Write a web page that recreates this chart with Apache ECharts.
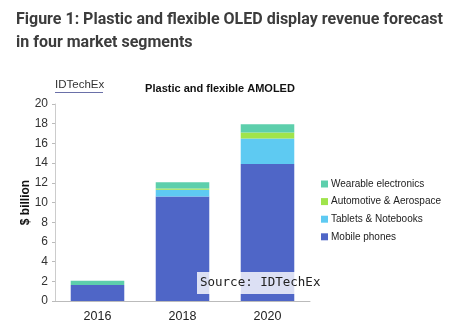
<!DOCTYPE html>
<html><head><meta charset="utf-8">
<script src="https://cdn.jsdelivr.net/npm/echarts@6/dist/echarts.min.js"></script>
<style>html,body{margin:0;padding:0;background:#fff}#c{width:456px;height:335px}</style>
</head><body><div id="c"></div>
<script>
const categories = ['2016', '2018', '2020'];
const mobilePhones = [1.62, 10.6, 13.9];
const tabletsNotebooks = [0, 0.7, 2.6];
const automotiveAerospace = [0, 0.12, 0.6];
const wearableElectronics = [0.44, 0.63, 0.85];
const yTicks = [0, 2, 4, 6, 8, 10, 12, 14, 16, 18, 20];

const chart = echarts.init(document.getElementById('c'), null, {renderer: 'canvas'});
const mk = (name, data, color) => ({
  name, type: 'bar', stack: 'a', data, barWidth: '63%',
  itemStyle: {color}, emphasis: {disabled: true}
});
chart.setOption({
  animation: false,
  textStyle: {fontFamily: 'Liberation Sans, Arial, sans-serif'},
  title: [{
    text: 'Figure 1: Plastic and flexible OLED display revenue forecast\nin four market segments',
    left: 11, top: 3,
    textStyle: {fontFamily: 'Roboto', fontWeight: 'bold', fontSize: 16, color: '#3c3c3c', lineHeight: 23}
  }, {
    text: 'Plastic and flexible AMOLED',
    left: 215, top: 78, textAlign: 'center',
    textStyle: {fontFamily: 'Liberation Sans, Arial', fontWeight: 'bold', fontSize: 11, color: '#111'}
  }],
  legend: {
    orient: 'vertical', left: 321, top: 178, itemWidth: 7, itemHeight: 7, itemGap: 5.6,
    icon: 'rect', padding: 0,
    data: ['Wearable electronics', 'Automotive & Aerospace', 'Tablets & Notebooks', 'Mobile phones'],
    textStyle: {fontSize: 10, lineHeight: 12, color: '#222', padding: [0, 0, 0, -2]}
  },
  grid: {left: 55, right: 146, top: 104, bottom: 34},
  xAxis: {
    type: 'category', data: categories,
    axisLine: {lineStyle: {color: '#bbb'}}, axisTick: {show: false},
    axisLabel: {fontSize: 12.5, color: '#222', margin: 9}
  },
  yAxis: {
    type: 'value', min: 0, max: 20, interval: 2,
    name: '$ billion', nameLocation: 'middle', nameGap: 23, nameRotate: 90,
    nameMoveOverlap: false,
    nameTextStyle: {fontWeight: 'bold', fontSize: 12, color: '#111'},
    axisLine: {show: true, lineStyle: {color: '#ccc'}},
    axisTick: {show: true, length: 3, lineStyle: {color: '#bbb'}},
    splitLine: {show: false},
    axisLabel: {fontSize: 12, color: '#333', margin: 7,
      formatter: v => yTicks.includes(v) ? String(v) : ''}
  },
  series: [
    mk('Mobile phones', mobilePhones, '#4f66c7'),
    mk('Tablets & Notebooks', tabletsNotebooks, '#5ecaf2'),
    mk('Automotive & Aerospace', automotiveAerospace, '#a0e44b'),
    mk('Wearable electronics', wearableElectronics, '#5dcfac')
  ],
  graphic: [
    {type: 'text', left: 55, top: 79,
      style: {text: 'IDTechEx', font: '11.5px "Liberation Sans", Arial', fill: '#333'}},
    {type: 'rect', left: 55, top: 92, shape: {width: 48, height: 1}, style: {fill: '#6a70a8'}},
    {type: 'rect', left: 197, top: 272, z: 100,
      shape: {width: 126, height: 22}, style: {fill: 'rgba(255,255,255,0.8)'}},
    {type: 'text', left: 200, top: 276, z: 101,
      style: {text: 'Source: IDTechEx', font: '12.5px "DejaVu Sans Mono", monospace', fill: '#222'}}
  ]
});
</script></body></html>
